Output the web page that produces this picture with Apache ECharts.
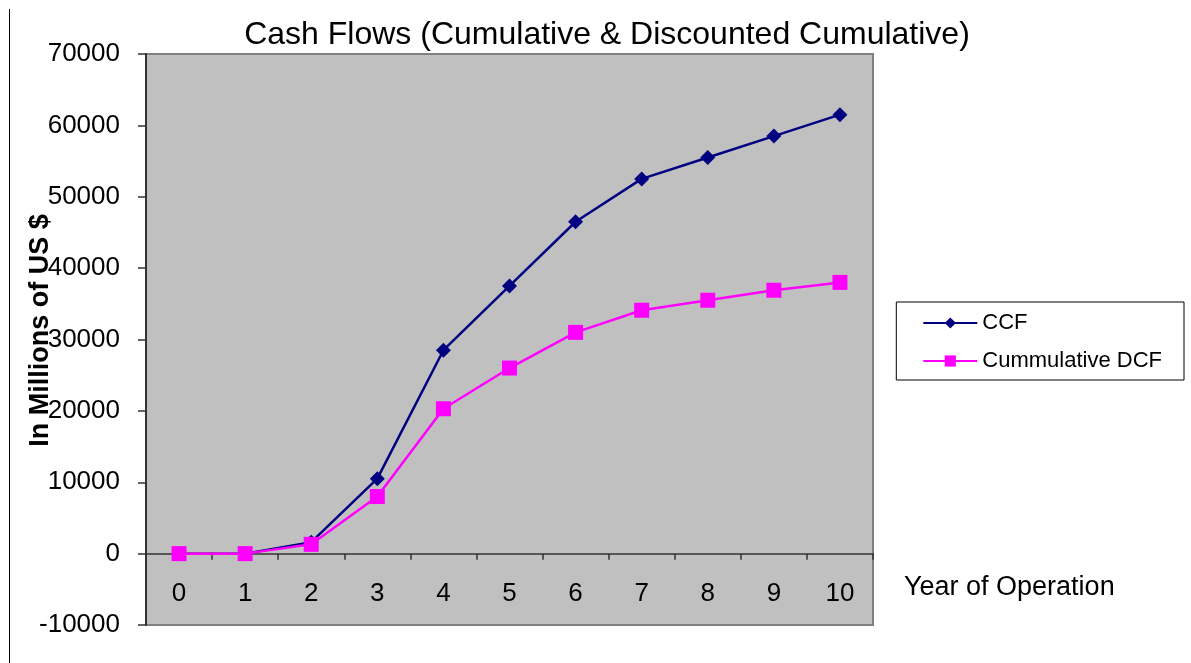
<!DOCTYPE html>
<html>
<head>
<meta charset="utf-8">
<script src="https://cdn.jsdelivr.net/npm/echarts@6/dist/echarts.min.js"></script>
<style>html,body{margin:0;padding:0;background:#fff;}#c{width:1191px;height:663px;}</style>
</head>
<body>
<div id="c"></div>
<script>
var years = ['0','1','2','3','4','5','6','7','8','9','10'];
var ccf = [0, 0, 1600, 10500, 28500, 37500, 46500, 52500, 55500, 58500, 61500];
var cumDcf = [0, 0, 1300, 8000, 20300, 26000, 31000, 34100, 35500, 36900, 38000];
var yTicks = {min: -10000, max: 70000, interval: 10000};

var chart = echarts.init(document.getElementById('c'), null, {renderer: 'canvas'});
var font = 'Liberation Sans, Arial, sans-serif';
chart.setOption({
  animation: false,
  backgroundColor: '#ffffff',
  title: [
    {text: 'Cash Flows (Cumulative & Discounted Cumulative)', left: 602, top: 14, textAlign: 'center',
     textStyle: {fontFamily: font, fontSize: 32, fontWeight: 'normal', color: '#000'}},
    {text: 'Year of Operation', left: 899, top: 569,
     textStyle: {fontFamily: font, fontSize: 27, fontWeight: 'normal', color: '#000'}}
  ],
  graphic: [
    {type: 'line', shape: {x1: 9.5, y1: 9, x2: 9.5, y2: 663}, style: {stroke: '#000', lineWidth: 1}}
  ],
  legend: {
    right: 7, top: 302, orient: 'vertical',
    padding: [10, 22, 8, 26],
    backgroundColor: '#fff', borderColor: '#000', borderWidth: 1,
    itemWidth: 54, itemHeight: 14, itemGap: 16,
    textStyle: {fontFamily: font, fontSize: 22, color: '#000', padding: [0, 0, 0, 0]},
    data: ['CCF', 'Cummulative DCF']
  },
  grid: {left: 146, right: 318, top: 54, bottom: 38, show: true, backgroundColor: '#C0C0C0',
         borderColor: '#808080', borderWidth: 2, outerBoundsMode: 'none', containLabel: false},
  xAxis: [
    {
      type: 'category', data: years, boundaryGap: true,
      axisLine: {onZero: true, lineStyle: {color: '#333', width: 1.5}},
      axisTick: {show: true, length: 6, lineStyle: {color: '#333', width: 1.5}},
      axisLabel: {show: false},
      splitLine: {show: false}
    },
    {
      type: 'category', data: years, boundaryGap: true, position: 'bottom',
      axisLine: {show: false, onZero: false},
      axisTick: {show: false},
      axisLabel: {margin: -44, fontFamily: font, fontSize: 26, color: '#000'},
      splitLine: {show: false}
    }
  ],
  yAxis: {
    type: 'value', min: yTicks.min, max: yTicks.max, interval: yTicks.interval,
    name: 'In Millions of US $', nameLocation: 'middle', nameGap: 92, nameMoveOverlap: false,
    nameTextStyle: {fontFamily: font, fontSize: 27, fontWeight: 'bold', color: '#000', padding: [0, 0, 0, 18]},
    axisLine: {show: true, lineStyle: {color: '#333', width: 2}},
    axisTick: {show: true, length: 8, lineStyle: {color: '#333', width: 1.5}},
    axisLabel: {margin: 26, fontFamily: font, fontSize: 26, color: '#000',
                formatter: function (v) { return String(v); }},
    splitLine: {show: false}
  },
  series: [
    {name: 'CCF', type: 'line', data: ccf, xAxisIndex: 0, symbol: 'diamond', symbolSize: 15,
     itemStyle: {color: '#000080'}, lineStyle: {color: '#000080', width: 2.5}, z: 2},
    {name: 'Cummulative DCF', type: 'line', data: cumDcf, xAxisIndex: 0, symbol: 'rect', symbolSize: 15,
     itemStyle: {color: '#FF00FF'}, lineStyle: {color: '#FF00FF', width: 2.5}, z: 3}
  ]
});
</script>
</body>
</html>
